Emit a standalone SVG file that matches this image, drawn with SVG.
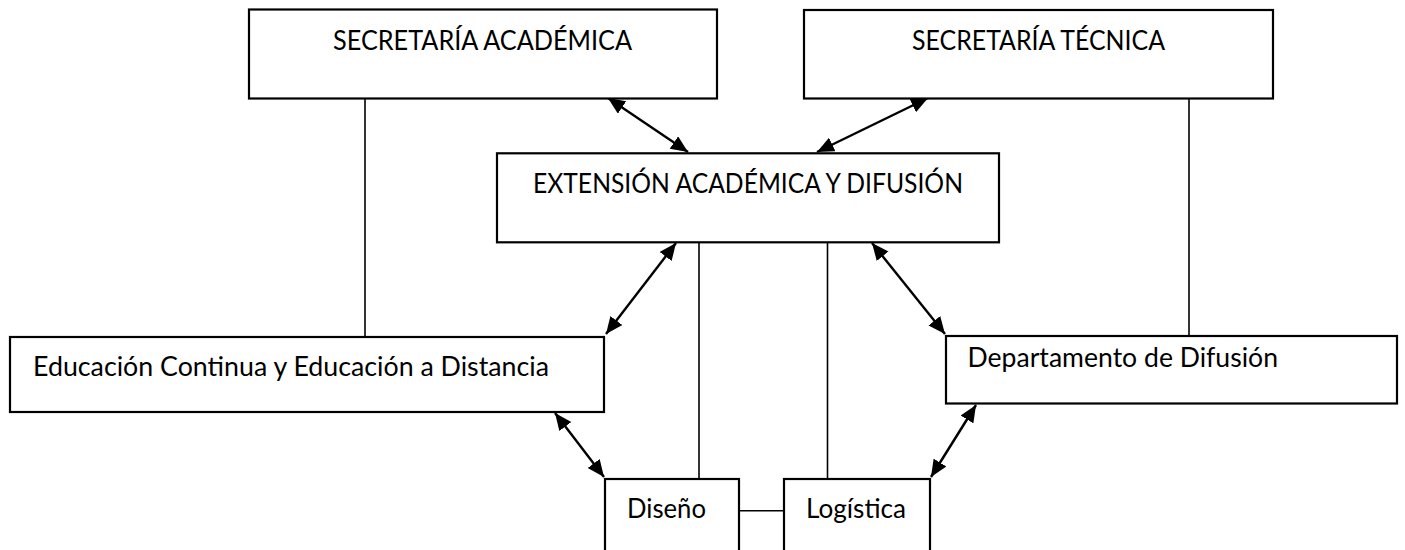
<svg xmlns="http://www.w3.org/2000/svg" width="1405" height="550" viewBox="0 0 1405 550">
<style>
.box{fill:#fff;stroke:#000;stroke-width:2.2}
.lbl{font-family:Lato,"Open Sans","Liberation Sans",sans-serif;font-size:27px;fill:#000}
.ln{stroke:#000;stroke-width:1.6;fill:none}
.arr{stroke:#000;stroke-width:2.4;fill:none;marker-start:url(#ah);marker-end:url(#ah)}
</style>
<defs>
<marker id="ah" markerUnits="userSpaceOnUse" markerWidth="18" markerHeight="16" refX="17" refY="7.5" orient="auto-start-reverse">
<path d="M0,0 L17,7.5 L0,15 Z" fill="#000"/>
</marker>
</defs>
<rect width="1405" height="550" fill="#fff"/>
<g id="connectors">
<line class="ln" x1="365" y1="99" x2="365" y2="337"/>
<line class="ln" x1="1189" y1="99" x2="1189" y2="336"/>
<line class="ln" x1="699" y1="243" x2="699" y2="479"/>
<line class="ln" x1="827.5" y1="243" x2="827.5" y2="479"/>
<line class="ln" x1="739" y1="510.7" x2="784" y2="510.7"/>
<line class="arr" x1="608" y1="98" x2="688" y2="152"/>
<line class="arr" x1="928" y1="98" x2="817" y2="152"/>
<line class="arr" x1="676" y1="243" x2="606" y2="334"/>
<line class="arr" x1="872" y1="243" x2="945" y2="334"/>
<line class="arr" x1="555" y1="413" x2="604" y2="477"/>
<line class="arr" x1="976" y1="405" x2="931" y2="477"/>
</g>
<g id="secretaria-academica">
<rect class="box" x="249" y="9.5" width="468" height="89"/>
<text class="lbl" x="333" y="50" textLength="299" lengthAdjust="spacingAndGlyphs">SECRETARÍA ACADÉMICA</text>
</g>
<g id="secretaria-tecnica">
<rect class="box" x="804" y="10" width="469" height="88.5"/>
<text class="lbl" x="912" y="50" textLength="253" lengthAdjust="spacingAndGlyphs">SECRETARÍA TÉCNICA</text>
</g>
<g id="extension">
<rect class="box" x="497" y="153.3" width="502" height="89"/>
<text class="lbl" x="533" y="192.5" textLength="430" lengthAdjust="spacingAndGlyphs">EXTENSIÓN ACADÉMICA Y DIFUSIÓN</text>
</g>
<g id="educacion">
<rect class="box" x="10" y="337" width="594" height="75"/>
<text class="lbl" x="33" y="376" textLength="516" lengthAdjust="spacingAndGlyphs">Educación Continua y Educación a Distancia</text>
</g>
<g id="departamento">
<rect class="box" x="946" y="336" width="451" height="67.5"/>
<text class="lbl" x="967.5" y="367" textLength="310.5" lengthAdjust="spacingAndGlyphs">Departamento de Difusión</text>
</g>
<g id="diseno">
<rect class="box" x="605" y="479" width="134" height="85"/>
<text class="lbl" x="627" y="518" textLength="79" lengthAdjust="spacingAndGlyphs">Diseño</text>
</g>
<g id="logistica">
<rect class="box" x="784" y="479" width="146" height="85"/>
<text class="lbl" x="806" y="518" textLength="100" lengthAdjust="spacingAndGlyphs">Logística</text>
</g>
</svg>
